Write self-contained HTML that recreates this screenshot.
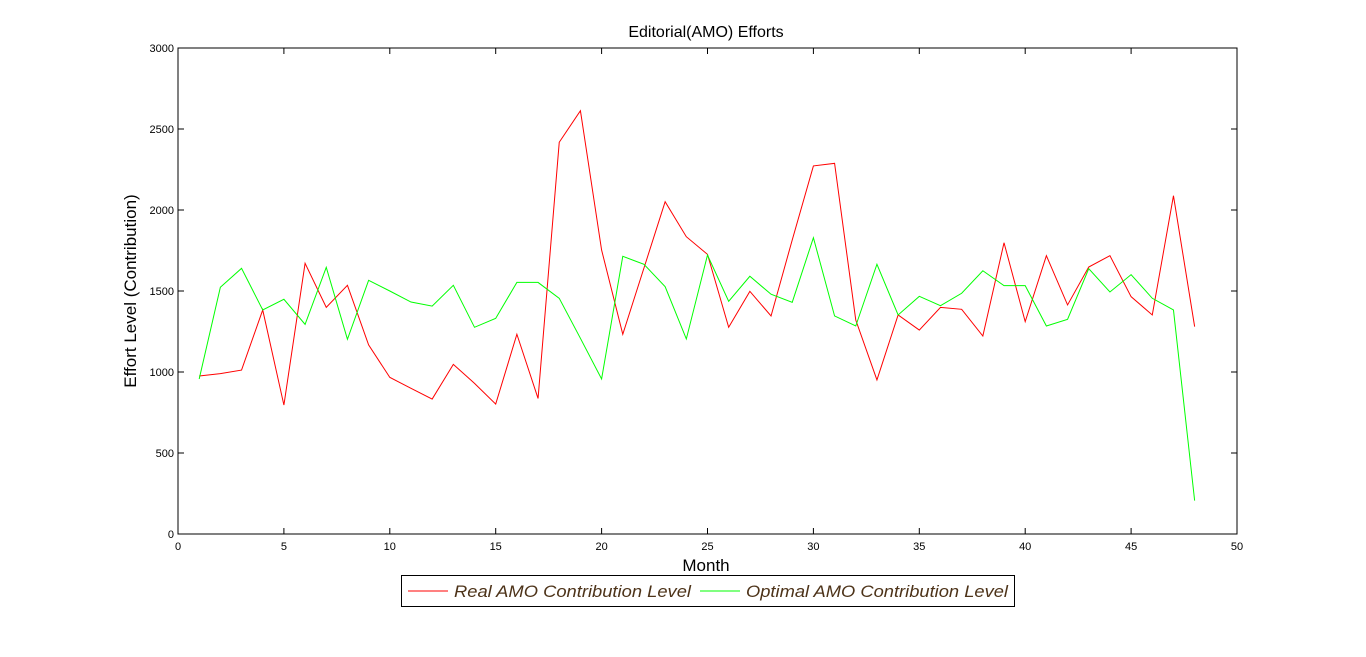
<!DOCTYPE html>
<html><head><meta charset="utf-8"><style>
body{margin:0;background:#fff;width:1366px;height:652px;overflow:hidden;font-family:"Liberation Sans",sans-serif}
</style></head><body>
<svg width="1366" height="652" xmlns="http://www.w3.org/2000/svg" id="svg">
<text x="706" y="37" text-anchor="middle" font-size="16">Editorial(AMO) Efforts</text>
<rect x="178" y="48" width="1059" height="486" fill="#fff" stroke="#000"/>
<g id="ticks"></g>
<g id="series"></g>
<text x="706" y="571" text-anchor="middle" font-size="17">Month</text>
<text transform="translate(136,291) rotate(-90)" text-anchor="middle" font-size="17">Effort Level (Contribution)</text>
<g>
<rect x="401.5" y="575.5" width="613" height="31" fill="#fff" stroke="#000"/>
<line x1="408" y1="591" x2="448" y2="591" stroke="#f00"/>
<text x="454" y="597" font-size="17" font-style="italic" fill="#4d3319" textLength="237" lengthAdjust="spacingAndGlyphs">Real AMO Contribution Level</text>
<line x1="700" y1="591" x2="740" y2="591" stroke="#0f0"/>
<text x="746" y="597" font-size="17" font-style="italic" fill="#4d3319" textLength="262" lengthAdjust="spacingAndGlyphs">Optimal AMO Contribution Level</text>
</g>
</svg>
<script>
const months=[1,2,3,4,5,6,7,8,9,10,11,12,13,14,15,16,17,18,19,20,21,22,23,24,25,26,27,28,29,30,31,32,33,34,35,36,37,38,39,40,41,42,43,44,45,46,47,48];
const realValues=[975,990,1012,1383,796,1671,1399,1535,1167,967,899,833,1047,930,802,1233,837,2418,2613,1753,1233,1642,2051,1835,1726,1276,1498,1346,1815,2272,2288,1321,951,1352,1259,1399,1387,1222,1798,1311,1718,1414,1648,1718,1465,1352,2088,1280];
const optimalValues=[957,1523,1640,1383,1449,1294,1646,1202,1566,1500,1432,1407,1535,1276,1331,1553,1553,1455,1208,957,1714,1665,1527,1204,1722,1436,1591,1480,1430,1829,1346,1284,1665,1352,1467,1409,1486,1625,1533,1533,1284,1325,1638,1494,1601,1455,1383,206];
const xTicks=[0,5,10,15,20,25,30,35,40,45,50];
const yTicks=[0,500,1000,1500,2000,2500,3000];
const NS="http://www.w3.org/2000/svg";
const X0=178,X1=1237,Y0=534,Y1=48;
function xs(v){return X0+(v-0)/(50-0)*(X1-X0);}
function ys(v){return Y0-(v-0)/(3000-0)*(Y0-Y1);}
const tg=document.getElementById('ticks');
function mk(tag,attrs,parent){const e=document.createElementNS(NS,tag);for(const k in attrs)e.setAttribute(k,attrs[k]);parent.appendChild(e);return e;}
xTicks.forEach(t=>{
  const x=xs(t);
  const l=mk('line',{x1:x,y1:Y0,x2:x,y2:Y0-6,stroke:'#000'},tg);
  
  
  const l2=mk('line',{x1:x,y1:Y1,x2:x,y2:Y1+6,stroke:'#000'},tg);
  
  
  const tx=mk('text',{x:x,y:Y0+16,'text-anchor':'middle','font-size':11},tg);
  tx.textContent=t;
  
  
});
yTicks.forEach(t=>{
  const y=ys(t);
  const l=mk('line',{x1:X0,y1:y,x2:X0+6,y2:y,stroke:'#000'},tg);
  
  
  const l2=mk('line',{x1:X1,y1:y,x2:X1-6,y2:y,stroke:'#000'},tg);
  
  
  const tx=mk('text',{x:X0-4,y:y+4,'text-anchor':'end','font-size':11},tg);
  tx.textContent=t;
  
  
});
const sg=document.getElementById('series');
function line(vals,color,name){
  const p=mk('polyline',{points:vals.map((v,i)=>xs(months[i])+','+ys(v)).join(' '),fill:'none',stroke:color,'stroke-width':1},sg);
  
  
}
line(realValues,'#f00','real-contribution-line');
line(optimalValues,'#0f0','optimal-contribution-line');
</script>
</body></html>
